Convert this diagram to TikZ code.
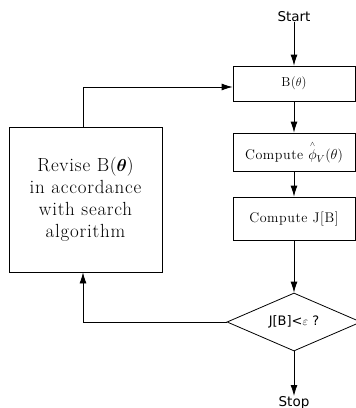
\documentclass[tikz,border=0pt]{standalone}
\usepackage{fontspec}
\usepackage{amsmath}
\usetikzlibrary{shapes.geometric,arrows.meta}
\newfontfamily\labelsans{DejaVu Sans}
\newfontfamily\boxserif{Latin Modern Roman}[LetterSpace=4]
\begin{document}
\begin{tikzpicture}[x=1pt,y=-1pt,
  box/.style={draw, line width=0.8pt, inner sep=0pt, anchor=center,
    font=\boxserif\fontsize{14}{16}\selectfont},
  bigbox/.style={draw, line width=0.8pt, inner sep=0pt, align=center,
    font=\boxserif\fontsize{19}{22}\selectfont},
  term/.style={font=\labelsans\fontsize{13.5}{15}\selectfont, inner sep=0pt},
  decision/.style={draw, diamond, line width=0.8pt, inner sep=0pt, aspect=2.3,
    minimum width=134pt, minimum height=58pt,
    font=\labelsans\fontsize{13}{15}\selectfont},
  conn/.style={draw, line width=0.8pt, -{Latex[length=11pt,width=7pt]}}
  ]
\useasboundingbox (0,0) rectangle (356,408);
\node[term] (start) at (294,17) {Start};
\node[box, minimum width=122pt, minimum height=35pt, font=\boxserif\fontsize{13}{15}\selectfont] (b) at (294,83.5) {B($\theta$)};
\node[box, minimum width=122pt, minimum height=38pt] (phi) at (294,152) {Compute $\overset{\scriptscriptstyle\wedge}{\phi}_V$($\theta$)};
\node[box, minimum width=122pt, minimum height=43pt] (j) at (294,218.5) {Compute J[B]};
\node[decision] (dec) at (294,322) {J[B]<$\varepsilon$ ?};
\node[term, anchor=north] (stop) at (294,396) {Stop};
\node[bigbox, minimum width=153pt, minimum height=145pt] (revise) at (85.5,199.5)
  {Revise B($\boldsymbol{\theta}$)\\in accordance\\with search\\algorithm};
\draw[conn] (start) -- (b);
\draw[conn] (b) -- (phi);
\draw[conn] (phi) -- (j);
\draw[conn] (j) -- (dec);
\draw[conn] (dec) -- (stop);
\draw[conn] (dec.west) -| ([xshift=-2.5pt]revise.south);
\draw[conn] ([xshift=-2.5pt]revise.north) |- ([yshift=-3.5pt]b.west);
\end{tikzpicture}
\end{document}
